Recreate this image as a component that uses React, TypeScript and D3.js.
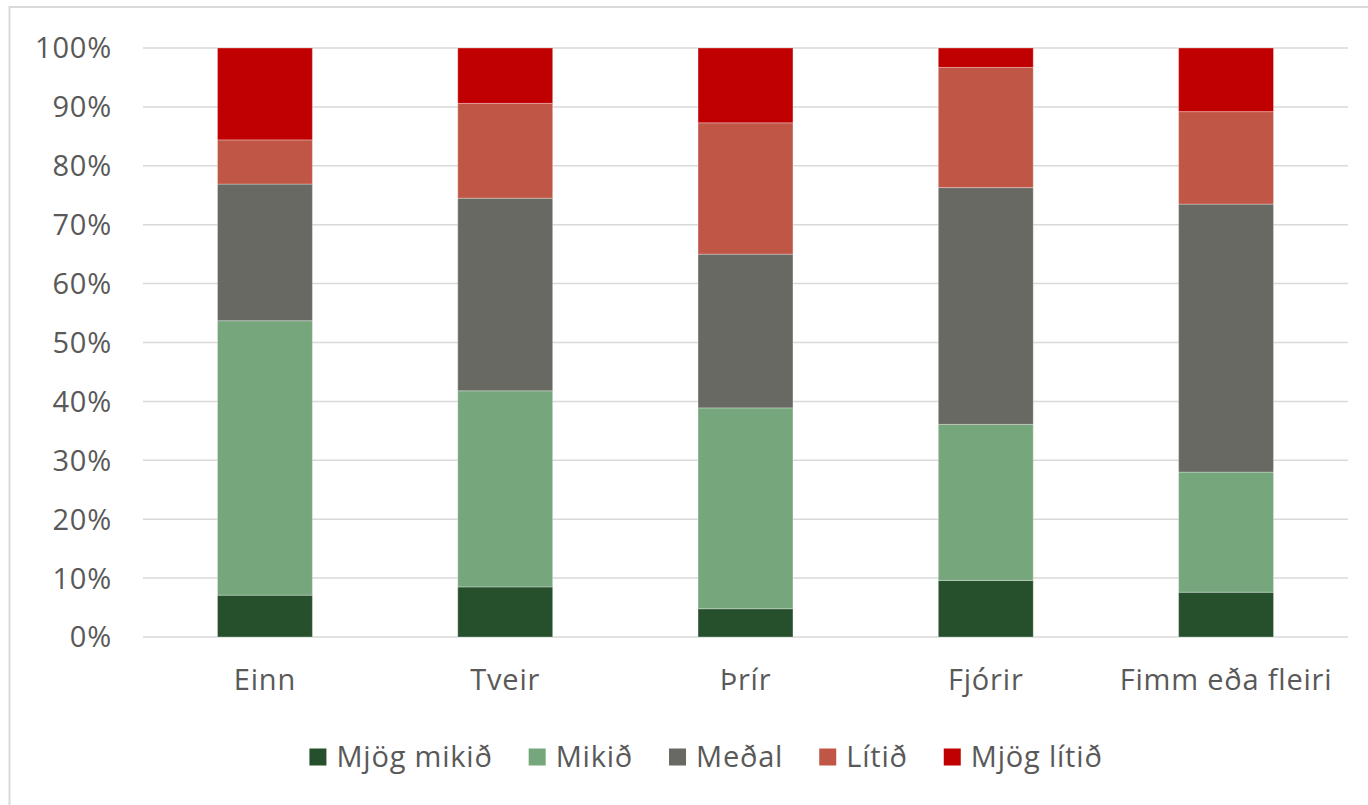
import React, { useEffect, useRef } from 'react';
import * as d3 from 'd3';

const categories = ['Einn', 'Tveir', 'Þrír', 'Fjórir', 'Fimm eða fleiri'];
const seriesNames = ['Mjög mikið', 'Mikið', 'Meðal', 'Lítið', 'Mjög lítið'];
const seriesColors = ['#264f2c', '#76a67c', '#686962', '#c05646', '#c00000'];

// percent of answers per category
const mjogMikid = [7.1, 8.5, 4.8, 9.6, 7.6];
const mikid = [46.6, 33.3, 34.1, 26.5, 20.4];
const medal = [23.2, 32.7, 26.1, 40.2, 45.5];
const litid = [7.5, 16.1, 22.3, 20.4, 15.7];
const mjogLitid = [15.6, 9.4, 12.7, 3.3, 10.8];

const yTicks = [0, 0.1, 0.2, 0.3, 0.4, 0.5, 0.6, 0.7, 0.8, 0.9, 1];

const W = 1368;
const H = 805;

export default function App() {
  const svgRef = useRef<SVGSVGElement>(null);

  useEffect(() => {
    if (!svgRef.current) return;
    const svg = d3.select(svgRef.current);
    svg.selectAll('*').remove();

    const font = '"Open Sans", "Noto Sans", sans-serif';
    const fontSize = 29;
    const spacing = 0.8;
    const textColor = '#595959';
    const margin = { top: 48, left: 143 };
    const plotRight = 1348;
    const plotBottom = 637;

    const seriesValues = [mjogMikid, mikid, medal, litid, mjogLitid];
    const rows = categories.map((c, i) => {
      const row: any = { category: c };
      seriesNames.forEach((s, j) => (row[s] = seriesValues[j][i]));
      return row;
    });

    const stacked = d3.stack<any>()
      .keys(seriesNames)
      .offset(d3.stackOffsetExpand)(rows);

    const x = d3.scaleBand()
      .domain(categories)
      .range([margin.left, plotRight])
      .paddingInner(0.605)
      .paddingOuter(0.31);

    const y = d3.scaleLinear()
      .domain([0, 1])
      .range([plotBottom, margin.top]);

    // chart border
    svg.append('rect')
      .attr('x', 9.5)
      .attr('y', 7)
      .attr('width', W + 20)
      .attr('height', H + 20)
      .attr('fill', '#fff')
      .attr('stroke', '#d9d9d9')
      .attr('stroke-width', 2);

    // gridlines
    svg.append('g')
      .selectAll('line')
      .data(yTicks)
      .join('line')
      .attr('x1', margin.left)
      .attr('x2', plotRight)
      .attr('y1', d => y(d))
      .attr('y2', d => y(d))
      .attr('stroke', '#d9d9d9')
      .attr('stroke-width', 1.5);

    // y labels
    svg.append('g')
      .selectAll('text')
      .data(yTicks)
      .join('text')
      .attr('x', 112)
      .attr('y', d => y(d))
      .attr('dy', '0.36em')
      .attr('text-anchor', 'end')
      .attr('font-family', font)
      .attr('font-size', fontSize)
      .attr('letter-spacing', spacing)
      .attr('fill', textColor)
      .text(d => d3.format('.0%')(d));

    // bars
    svg.append('g')
      .selectAll('g')
      .data(stacked)
      .join('g')
      .attr('fill', (_, i) => seriesColors[i])
      .selectAll('rect')
      .data(d => d)
      .join('rect')
      .attr('x', d => x(d.data.category) || 0)
      .attr('y', d => y(d[1]))
      .attr('width', x.bandwidth())
      .attr('height', d => y(d[0]) - y(d[1]))
      .attr('stroke', '#ffffff')
      .attr('stroke-opacity', 0.3)
      .attr('stroke-width', 1);

    // x labels
    svg.append('g')
      .selectAll('text')
      .data(categories)
      .join('text')
      .attr('x', d => (x(d) || 0) + x.bandwidth() / 2)
      .attr('y', 690)
      .attr('text-anchor', 'middle')
      .attr('font-family', font)
      .attr('font-size', fontSize)
      .attr('letter-spacing', spacing)
      .attr('fill', textColor)
      .text(d => d);

    // legend
    const legend = svg.append('g');
    const items = legend.selectAll('g')
      .data(seriesNames)
      .join('g');
    items.append('rect')
      .attr('width', 17)
      .attr('height', 17)
      .attr('y', -8.5)
      .attr('fill', (_, i) => seriesColors[i]);
    items.append('text')
      .attr('x', 27)
      .attr('dy', '0.36em')
      .attr('font-family', font)
      .attr('font-size', fontSize)
      .attr('letter-spacing', spacing)
      .attr('fill', textColor)
      .text(d => d);

    const widths: number[] = [];
    items.each(function () {
      const t = d3.select(this).select('text').node() as SVGTextElement;
      widths.push(27 + t.getComputedTextLength());
    });
    const gap = 36;
    const total = d3.sum(widths) + gap * (widths.length - 1);
    let cx = 706 - total / 2;
    items.attr('transform', (_, i) => {
      const tx = cx;
      cx += widths[i] + gap;
      return `translate(${tx},757)`;
    });
  }, []);

  return (
    <svg
      ref={svgRef}
      width={W}
      height={H}
      style={{ position: 'absolute', left: 0, top: 0, background: '#fff' }}
    />
  );
}
